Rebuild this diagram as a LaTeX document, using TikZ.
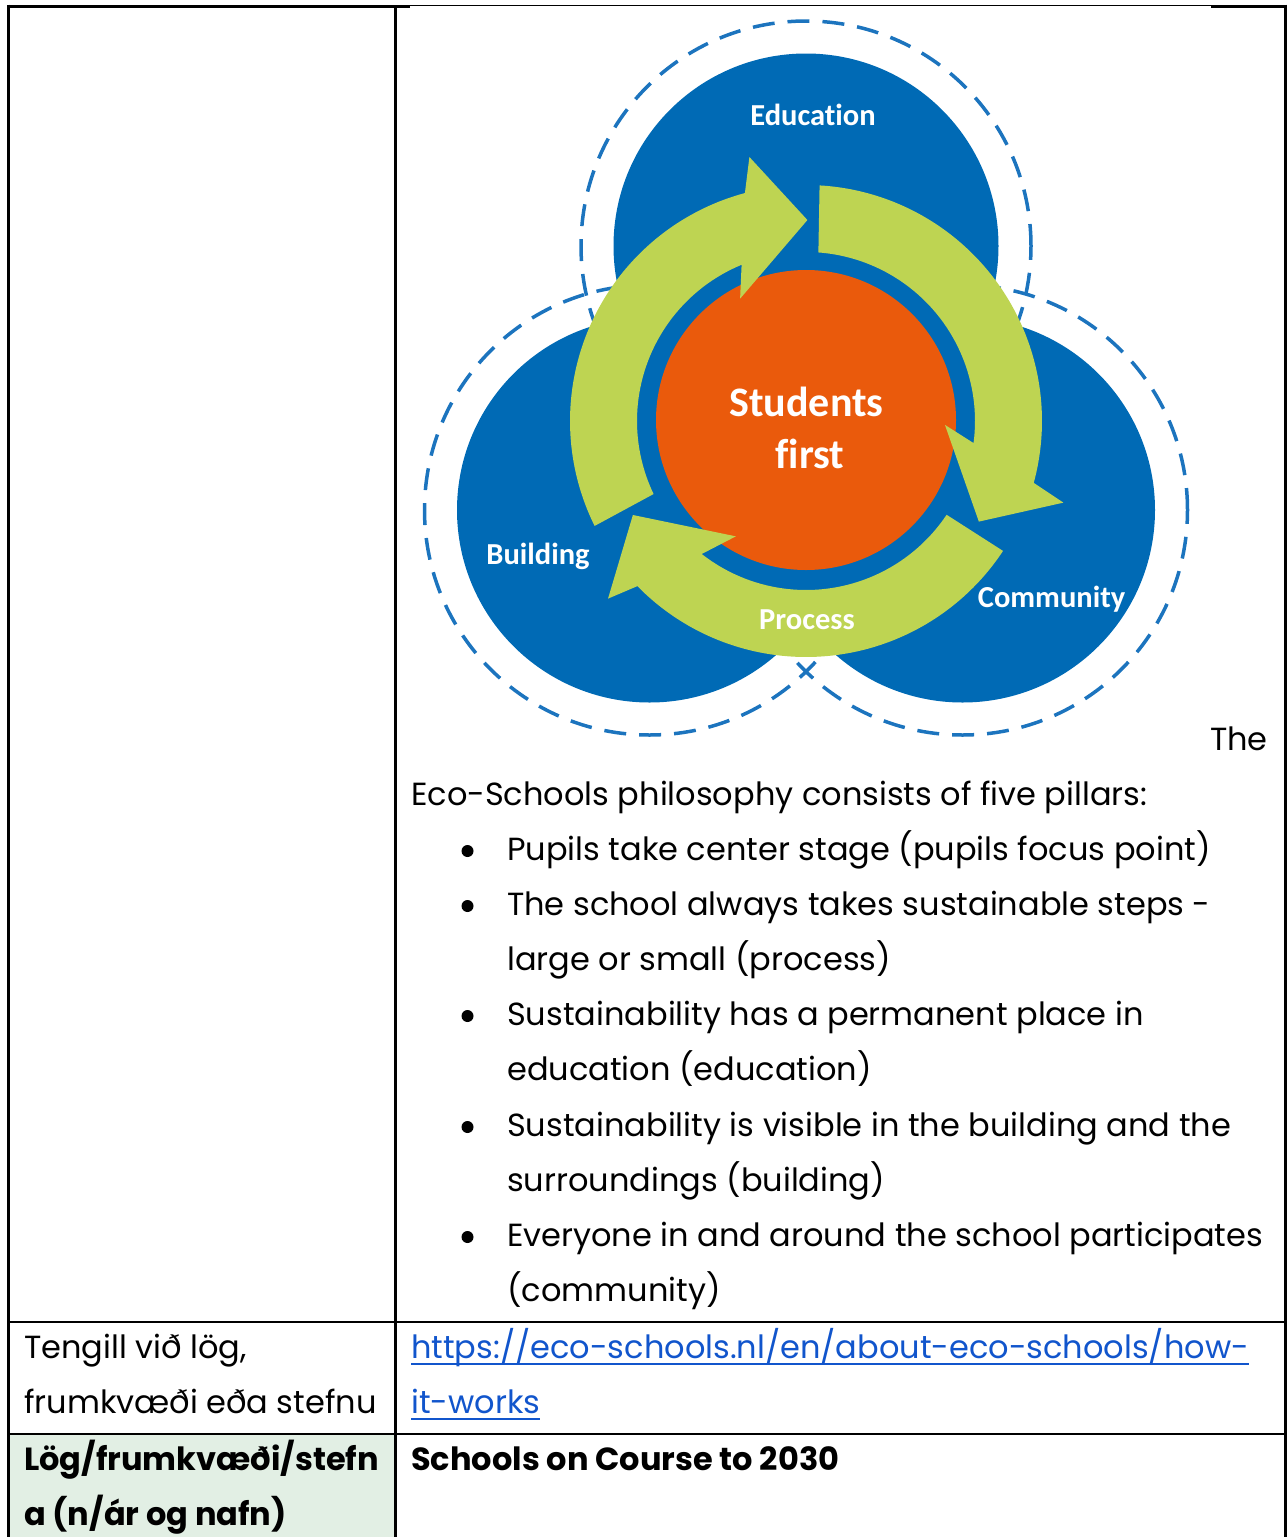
\documentclass[tikz,border=0pt]{standalone}
\usepackage{fontspec}
\setmainfont{Poppins}
\newfontfamily\diagfont[Ligatures=NoCommon]{Carlito}
\usetikzlibrary{calc}
\definecolor{ecoblue}{RGB}{0,106,181}
\definecolor{dashblue}{RGB}{28,116,190}
\definecolor{ecogreen}{RGB}{190,212,82}
\definecolor{ecoorange}{RGB}{234,90,12}
\definecolor{mint}{RGB}{226,239,228}
\definecolor{linkblue}{RGB}{17,85,204}
\begin{document}
\begin{tikzpicture}[x=1pt,y=1pt,
  bodytext/.style={inner sep=0pt, anchor=base west, text=black, font=\fontsize{32}{38}\selectfont},
  boldtext/.style={bodytext, font=\fontsize{32}{38}\selectfont\bfseries},
  linktext/.style={bodytext, text=linkblue},
  dlabel/.style={inner sep=0pt, anchor=base, text=white, font=\diagfont\bfseries\fontsize{30.5}{36}\selectfont},
  biglabel/.style={dlabel, font=\diagfont\bfseries\fontsize{42}{50}\selectfont},
  pillar/.style={fill=ecoblue},
  halo/.style={draw=dashblue, line width=3.5pt, dash pattern=on 22pt off 13pt},
  arrowband/.style={fill=ecogreen},
  core/.style={fill=ecoorange},
  heavyline/.style={draw=black, line width=3pt},
  midline/.style={draw=black, line width=2.5pt},
  hairline/.style={draw=black, line width=1.2pt},
  dot/.style={fill=black}
]
\useasboundingbox (0,0) rectangle (1287,-1537);

% ---------- diagram ----------
\coordinate (G) at (806,-421);
\coordinate (CT) at (806,-246);
\coordinate (CL) at (649.5,-510);
\coordinate (CR) at (962.5,-510);

\draw[halo] (CT) circle[radius=225];
\draw[halo] (CL) circle[radius=225];
\draw[halo] (CR) circle[radius=225];

\fill[pillar] (CT) circle[radius=192.5];
\fill[pillar] (CL) circle[radius=192.5];
\fill[pillar] (CR) circle[radius=192.5];

\fill[core] (806,-420) circle[radius=150];

% arrow: top -> right
\fill[arrowband] ($(G)+(86.7:236)$) arc[start angle=86.7, end angle=-15.2, radius=236]
  -- ($(G)+(-17.6:270)$) -- ($(G)+(-30.2:200)$) -- ($(G)+(-1.6:139)$) -- ($(G)+(-7.5:169)$)
  arc[start angle=-7.5, end angle=85.8, radius=169] -- cycle;
% arrow: right -> left (bottom)
\fill[arrowband] ($(G)+(-33.4:236)$) arc[start angle=-33.4, end angle=-135.6, radius=236]
  -- ($(G)+(-138.1:266)$) -- ($(G)+(-151.5:197)$) -- ($(G)+(-121.3:135)$) -- ($(G)+(-128.1:169)$)
  arc[start angle=-128.1, end angle=-33.7, radius=169] -- cycle;
% arrow: left -> top
\fill[arrowband] ($(G)+(206.4:236)$) arc[start angle=206.4, end angle=105, radius=236]
  -- ($(G)+(102.1:270)$) -- ($(G)+(89.6:201)$) -- ($(G)+(118.3:139)$) -- ($(G)+(112.4:169)$)
  arc[start angle=112.4, end angle=205.6, radius=169] -- cycle;

\node[dlabel] (edu) at (813,-125.4) {Education};
\node[dlabel] (bld) at (538,-564.6) {Building};
\node[dlabel] (com) at (1051.6,-607.6) {Community};
\node[dlabel] (proc) at (807,-629.6) {Process};
\node[biglabel] (stud) at (806.4,-416.7) {Students};
\node[biglabel] (frst) at (810,-468) {first};

% ---------- table ----------
\fill[mint] (8,-1434) rectangle (395,-1537);

\draw[heavyline] (8.5,-4.5) -- (8.5,-1537);
\draw[midline] (395.5,-5) -- (395.5,-1537);
\draw[heavyline] (1285,-4.5) -- (1285,-1537);
\draw[heavyline] (7,-6) -- (410,-6);
\draw[hairline] (410,-5.5) -- (1211,-5.5);
\draw[heavyline] (1211,-6) -- (1286.5,-6);
\draw[midline] (7,-1322) -- (1286.5,-1322);
\draw[midline] (7,-1434) -- (1286.5,-1434);

% ---------- right column text ----------
\node[bodytext, anchor=base east] (the) at (1268,-750) {The};
\node[bodytext] (intro) at (411,-805.5) {Eco-Schools philosophy consists of five pillars:};

\fill[dot] (467.5,-851) circle[radius=6];
\node[bodytext] (b1) at (507,-860.5) {Pupils take center stage (pupils focus point)};
\fill[dot] (467.5,-906) circle[radius=6];
\node[bodytext] (b2a) at (507,-915.5) {The school always takes sustainable steps -};
\node[bodytext] (b2b) at (507,-970.5) {large or small (process)};
\fill[dot] (467.5,-1016) circle[radius=6];
\node[bodytext] (b3a) at (507,-1025.5) {Sustainability has a permanent place in};
\node[bodytext] (b3b) at (507,-1080.5) {education (education)};
\fill[dot] (467.5,-1127) circle[radius=6];
\node[bodytext] (b4a) at (507,-1136) {Sustainability is visible in the building and the};
\node[bodytext] (b4b) at (507,-1191) {surroundings (building)};
\fill[dot] (467.5,-1237) circle[radius=6];
\node[bodytext] (b5a) at (507,-1246) {Everyone in and around the school participates};
\node[bodytext] (b5b) at (507,-1301) {(community)};

% ---------- row 2 ----------
\node[bodytext] (t1) at (24,-1358) {Tengill við lög,};
\node[bodytext] (t2) at (24,-1413) {frumkvæði eða stefnu};
\node[linktext] (l1) at (411,-1358) {https://eco-schools.nl/en/about-eco-schools/how-};
\node[linktext] (l2) at (411,-1413) {it-works};
\draw[linkblue, line width=2pt] ($(l1.base west)+(0,-6)$) -- ($(l1.base east)+(0,-6)$);
\draw[linkblue, line width=2pt] ($(l2.base west)+(0,-6)$) -- ($(l2.base east)+(0,-6)$);

% ---------- row 3 ----------
\node[boldtext] (h1) at (24,-1470) {Lög/frumkvæði/stefn};
\node[boldtext] (h2) at (24,-1525) {a (n/ár og nafn)};
\node[boldtext] (s1) at (411,-1470) {Schools on Course to 2030};
\end{tikzpicture}
\end{document}
